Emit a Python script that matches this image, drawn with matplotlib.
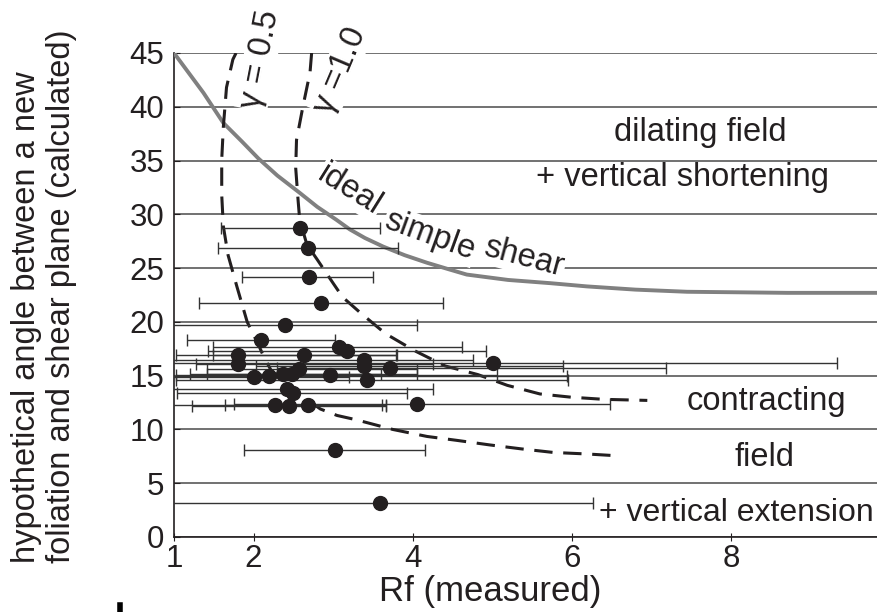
import matplotlib
matplotlib.use('Agg')
import matplotlib.pyplot as plt

plt.rcParams['font.family'] = ['Liberation Sans', 'DejaVu Sans']
ink = '#231f20'

# ideal simple shear curve
shear_rf = [1.0, 1.37, 1.62, 1.85, 2.06, 2.30, 2.58, 2.80, 3.04, 3.21, 3.40, 3.63, 3.90,
            4.18, 4.45, 4.68, 5.20, 5.73, 6.19, 6.80, 7.45, 8.10, 8.71, 9.86]
shear_ang = [45.0, 41.3, 38.5, 36.8, 35.2, 33.6, 32.0, 30.7, 29.5, 28.6, 27.8, 27.0, 26.2,
             25.5, 24.9, 24.4, 23.9, 23.6, 23.3, 23.0, 22.8, 22.75, 22.7, 22.7]

# gamma = 0.5 dashed curve
g05_rf = [1.78, 1.74, 1.66, 1.62, 1.60, 1.60, 1.62, 1.68, 1.79, 1.92, 2.06, 2.12, 2.22,
          2.42, 2.63, 2.84, 3.05, 3.29, 3.75, 4.18, 4.56, 4.97, 5.37, 5.77, 6.19, 6.62]
g05_ang = [45.0, 44.4, 41.8, 38.1, 35.1, 31.8, 28.9, 26.2, 23.3, 20.0, 17.9, 16.9, 15.5,
           13.8, 13.0, 11.9, 11.3, 10.9, 10.0, 9.35, 8.98, 8.56, 8.19, 7.86, 7.72, 7.53]

# gamma = 1.0 dashed curve
g10_rf = [2.73, 2.71, 2.62, 2.54, 2.53, 2.56, 2.58, 2.67, 2.80, 3.00, 3.12, 3.35, 3.66,
          4.03, 4.41, 4.82, 5.19, 5.60, 5.99, 6.40, 6.95]
g10_ang = [45.0, 43.2, 40.0, 36.9, 34.3, 31.3, 29.5, 27.2, 25.8, 23.6, 22.3, 20.8, 18.9,
           17.3, 15.9, 15.1, 14.1, 13.3, 13.0, 12.8, 12.7]

# measured samples: Rf, angle, Rf range (low, high)
rf = [2.59, 2.69, 2.70, 2.85, 2.39, 2.09, 3.07, 3.18, 1.80, 2.63, 3.39, 5.01, 1.80, 3.39, 2.57,
      3.72, 2.96, 2.37, 2.48, 2.19, 2.00, 3.43, 2.42, 2.49, 2.27, 2.45, 2.69, 4.06, 3.03, 3.59]
angle = [28.7, 26.9, 24.2, 21.8, 19.7, 18.3, 17.7, 17.3, 16.9, 16.9, 16.5, 16.2, 16.1, 15.9, 15.6,
         15.7, 15.1, 15.2, 15.2, 15.0, 14.9, 14.6, 13.8, 13.4, 12.3, 12.2, 12.3, 12.4, 8.1, 3.2]
rf_low = [1.59, 1.55, 1.86, 1.31, 0.95, 1.16, 1.49, 1.43, 1.03, 1.49, 0.95, 0.95, 1.28, 2.03, 1.42,
          2.29, 1.02, 1.20, 1.42, 0.95, 0.95, 1.02, 0.95, 1.04, 0.97, 1.22, 1.64, 1.75, 1.88, 0.95]
rf_high = [3.59, 3.82, 3.50, 4.38, 4.06, 3.03, 4.62, 4.92, 3.80, 3.79, 4.76, 9.33, 4.26, 5.89, 4.06,
           7.18, 5.06, 4.06, 3.60, 5.94, 3.20, 5.95, 4.25, 3.93, 3.61, 3.67, 3.67, 6.48, 4.16, 6.27]

x_ticks = [1, 2, 4, 6, 8]
y_ticks = [0, 5, 10, 15, 20, 25, 30, 35, 40, 45]

fig = plt.figure(figsize=(8.78, 6.12), dpi=100)
ax = fig.add_axes([174 / 878, 75 / 612, 704 / 878, 484 / 612])

ax.set_xlim(1, 9.85)
ax.set_ylim(0, 45)
ax.set_xticks(x_ticks)
ax.set_yticks(y_ticks)
ax.grid(axis='y', color='#4a4a4a', lw=1.1)
ax.set_axisbelow(True)
for side in ['top', 'right']:
    ax.spines[side].set_visible(False)
for side in ['left', 'bottom']:
    ax.spines[side].set_color(ink)
    ax.spines[side].set_linewidth(1.2)
ax.tick_params(axis='y', direction='in', length=4, pad=7, labelsize=22.5, colors=ink)
ax.tick_params(axis='x', direction='inout', length=6, pad=2, labelsize=22.5, colors=ink)

# region labels
txt = dict(color=ink, fontsize=23.5, ha='center', va='center')
ax.text(7.62, 37.6, 'dilating field', **txt)
ax.text(7.39, 33.4, '+ vertical shortening', **txt)
ax.text(8.45, 12.6, 'contracting', **txt)
ax.text(8.42, 7.4, 'field', **txt)
ax.text(8.07, 2.2, '+ vertical extension', color=ink, fontsize=23, ha='center', va='center')

box = dict(facecolor='white', edgecolor='none', pad=1)
ax.text(3.21, 32.3, 'ideal', rotation=-32, rotation_mode='anchor', bbox=box, zorder=2, **txt)
ax.text(4.22, 28.0, 'simple', rotation=-20, rotation_mode='anchor', bbox=box, zorder=2, **txt)
ax.text(5.40, 26.0, 'shear', rotation=-15, rotation_mode='anchor', bbox=box, zorder=2, **txt)
ax.text(2.08, 44.4, 'γ = 0.5', rotation=79, rotation_mode='anchor', bbox=box, zorder=2,
        clip_on=False, **txt)
ax.text(3.09, 43.4, 'γ =1.0', rotation=67, rotation_mode='anchor', bbox=box, zorder=2,
        clip_on=False, **txt)

ax.plot(shear_rf, shear_ang, color='#808080', lw=2.8, zorder=3)
ax.plot(g05_rf, g05_ang, color=ink, lw=2.2, ls=(0, (6, 3.5)), zorder=3)
ax.plot(g10_rf, g10_ang, color=ink, lw=2.2, ls=(0, (6, 3.5)), zorder=3)

xerr = [[r - lo for r, lo in zip(rf, rf_low)], [hi - r for r, hi in zip(rf, rf_high)]]
ax.errorbar(rf, angle, xerr=xerr, fmt='o', color=ink, ms=10, ecolor='#333333',
            elinewidth=1.0, capsize=4, capthick=1.0, zorder=4)

fig.text(490 / 878, 21 / 612, 'Rf (measured)', ha='center', va='center', fontsize=25, color=ink)
fig.text(44 / 878, 49 / 612, 'hypothetical angle between a new\nfoliation and shear plane (calculated)',
         rotation=90, ha='center', va='bottom', multialignment='left', fontsize=23.5,
         linespacing=1.15, color=ink)
fig.add_artist(plt.Line2D([120 / 878, 120 / 878], [0, 7 / 612], color='black', lw=4))

fig.savefig('out.png', dpi=100)
